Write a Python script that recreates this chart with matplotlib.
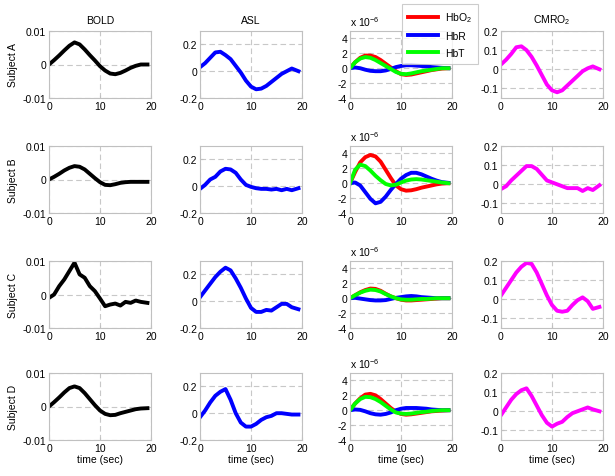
import numpy as np
import matplotlib
matplotlib.use("Agg")
import matplotlib.pyplot as plt

plt.rcParams["font.family"] = ["Liberation Sans", "DejaVu Sans"]
plt.rcParams["font.size"] = 7.5
plt.rcParams["mathtext.fontset"] = "custom"
plt.rcParams["mathtext.rm"] = "Liberation Sans"
plt.rcParams["mathtext.it"] = "Liberation Sans"

# time axis (sec)
t = [0, 1, 2, 3, 4, 5, 6, 7, 8, 9, 10, 11, 12, 13, 14, 15, 16, 17, 18, 19.3]

subjects = ["Subject A", "Subject B", "Subject C", "Subject D"]
columns = ["BOLD", "ASL", "", "CMRO$_2$"]

# BOLD
bold_a = [0, 0.0013, 0.0027, 0.0042, 0.0056, 0.0066, 0.006, 0.0045, 0.0028, 0.0012,
          -0.0005, -0.0018, -0.0027, -0.0029, -0.0025, -0.0018, -0.001, -0.0004, 0.0, 0.0]
bold_b = [0, 0.0008, 0.0017, 0.0027, 0.0035, 0.004, 0.0038, 0.003, 0.0017, 0.0004,
          -0.0008, -0.0016, -0.0017, -0.0014, -0.001, -0.0008, -0.0007, -0.0007, -0.0007, -0.0007]
bold_c = [-0.001, 0.0, 0.0025, 0.0045, 0.007, 0.0095, 0.006, 0.005, 0.0025, 0.001,
          -0.0012, -0.0035, -0.003, -0.0027, -0.0033, -0.0022, -0.0025, -0.0018, -0.0022, -0.0025]
bold_d = [0, 0.0013, 0.0027, 0.0042, 0.0055, 0.006, 0.0055, 0.004, 0.0022, 0.0004,
          -0.0012, -0.0022, -0.0026, -0.0025, -0.002, -0.0016, -0.0012, -0.0008, -0.0006, -0.0005]

# ASL
asl_a = [0.03, 0.06, 0.1, 0.14, 0.145, 0.12, 0.09, 0.04, -0.01, -0.07,
         -0.115, -0.135, -0.13, -0.11, -0.08, -0.05, -0.02, 0.0, 0.02, 0.0]
asl_b = [-0.02, 0.01, 0.05, 0.07, 0.11, 0.13, 0.125, 0.1, 0.05, 0.01,
         -0.005, -0.015, -0.02, -0.02, -0.025, -0.02, -0.03, -0.02, -0.03, -0.015]
asl_c = [0.03, 0.08, 0.13, 0.18, 0.22, 0.25, 0.23, 0.17, 0.1, 0.02,
         -0.05, -0.08, -0.08, -0.065, -0.07, -0.045, -0.02, -0.02, -0.045, -0.06]
asl_d = [-0.03, 0.02, 0.08, 0.13, 0.16, 0.18, 0.1, 0.0, -0.07, -0.1,
         -0.1, -0.08, -0.05, -0.03, -0.02, 0.0, 0.0, -0.005, -0.01, -0.01]

# NIRS (x 1e-6)
hbo2_a = [0, 0.8, 1.4, 1.7, 1.7, 1.5, 1.1, 0.6, 0.1, -0.4,
          -0.8, -0.9, -0.85, -0.7, -0.55, -0.4, -0.25, -0.15, -0.05, 0]
hbr_a = [0, 0.1, 0.0, -0.2, -0.35, -0.4, -0.4, -0.3, -0.1, 0.15,
         0.3, 0.4, 0.4, 0.35, 0.3, 0.25, 0.15, 0.1, 0.05, 0]
hbt_a = [0, 0.8, 1.3, 1.5, 1.4, 1.1, 0.7, 0.3, -0.1, -0.5,
         -0.75, -0.8, -0.7, -0.55, -0.4, -0.3, -0.2, -0.1, 0, 0]

hbo2_b = [0, 1.5, 2.8, 3.5, 3.8, 3.6, 2.9, 1.8, 0.7, -0.3,
          -0.8, -1.0, -0.95, -0.8, -0.6, -0.45, -0.3, -0.15, -0.05, 0]
hbr_b = [0, 0.1, -0.3, -1.2, -2.1, -2.7, -2.5, -1.8, -0.9, -0.1,
         0.6, 1.1, 1.4, 1.4, 1.2, 0.9, 0.6, 0.35, 0.15, 0.05]
hbt_b = [0, 1.8, 2.5, 2.3, 1.7, 1.0, 0.4, -0.1, -0.3, -0.2,
         0.1, 0.35, 0.5, 0.55, 0.5, 0.4, 0.3, 0.2, 0.1, 0]

hbo2_c = [0, 0.4, 0.8, 1.1, 1.3, 1.25, 1.0, 0.6, 0.25, 0.0,
          -0.2, -0.3, -0.3, -0.25, -0.2, -0.15, -0.1, -0.05, 0, 0]
hbr_c = [0, 0.05, -0.05, -0.15, -0.25, -0.3, -0.3, -0.25, -0.1, 0.05,
         0.15, 0.25, 0.3, 0.25, 0.15, 0.1, 0.05, 0, 0, 0]
hbt_c = [0, 0.4, 0.75, 1.0, 1.15, 1.1, 0.9, 0.55, 0.25, 0.0,
         -0.15, -0.2, -0.2, -0.15, -0.1, -0.1, -0.05, 0, 0, 0]

hbo2_d = [0, 0.9, 1.6, 2.1, 2.2, 2.0, 1.5, 0.9, 0.3, -0.2,
          -0.5, -0.6, -0.55, -0.45, -0.35, -0.25, -0.15, -0.1, -0.05, 0]
hbr_d = [0, 0.1, 0.05, -0.15, -0.4, -0.55, -0.6, -0.5, -0.3, 0.0,
         0.2, 0.3, 0.3, 0.3, 0.25, 0.2, 0.1, 0.05, 0, 0]
hbt_d = [0, 0.9, 1.5, 1.8, 1.75, 1.5, 1.1, 0.6, 0.1, -0.3,
         -0.45, -0.5, -0.45, -0.35, -0.25, -0.2, -0.1, -0.05, 0, 0]

# CMRO2
cmro2_a = [0.025, 0.05, 0.08, 0.115, 0.12, 0.1, 0.065, 0.02, -0.03, -0.08,
           -0.11, -0.12, -0.11, -0.085, -0.06, -0.035, -0.01, 0.005, 0.015, 0.0]
cmro2_b = [-0.025, -0.01, 0.02, 0.045, 0.07, 0.095, 0.095, 0.08, 0.05, 0.02,
           0.01, 0.0, -0.01, -0.02, -0.02, -0.02, -0.035, -0.02, -0.03, -0.005]
cmro2_c = [0.02, 0.06, 0.1, 0.14, 0.17, 0.19, 0.185, 0.14, 0.08, 0.02,
           -0.03, -0.06, -0.065, -0.06, -0.03, -0.005, 0.01, -0.01, -0.05, -0.04]
cmro2_d = [-0.02, 0.02, 0.06, 0.09, 0.11, 0.12, 0.08, 0.03, -0.02, -0.06,
           -0.08, -0.065, -0.055, -0.03, -0.01, 0.0, 0.01, 0.02, 0.01, 0.0]

bold = [bold_a, bold_b, bold_c, bold_d]
asl = [asl_a, asl_b, asl_c, asl_d]
hbo2 = [hbo2_a, hbo2_b, hbo2_c, hbo2_d]
hbr = [hbr_a, hbr_b, hbr_c, hbr_d]
hbt = [hbt_a, hbt_b, hbt_c, hbt_d]
cmro2 = [cmro2_a, cmro2_b, cmro2_c, cmro2_d]

W, H = 615, 477
lefts = [49, 200, 350, 501]
tops = [32, 147, 262, 374]
aw, ah = 102, 67
lw = 2.8
frame = "#c0c0c0"


def style(ax, ylim, yticks, yticklabels):
    ax.set_xlim(0, 20)
    ax.set_xticks([0, 10, 20])
    ax.set_ylim(*ylim)
    ax.set_yticks(yticks)
    ax.set_yticklabels(yticklabels)
    ax.grid(True, ls=(0, (5, 3)), color="#c8c8c8", lw=0.8)
    ax.set_axisbelow(True)
    for s in ax.spines.values():
        s.set_color(frame)
        s.set_linewidth(0.8)
    ax.tick_params(direction="in", length=2, color=frame, labelsize=7.5, pad=2)


fig = plt.figure(figsize=(W / 100, H / 100), dpi=100)

for r in range(4):
    axes = []
    for c in range(4):
        x0 = lefts[c] / W
        y0 = 1 - (tops[r] + ah) / H
        axes.append(fig.add_axes([x0, y0, aw / W, ah / H]))
    a0, a1, a2, a3 = axes

    a0.plot(t, bold[r], color="black", lw=lw)
    style(a0, (-0.01, 0.01), [-0.01, 0, 0.01], ["-0.01", "0", "0.01"])
    a0.set_ylabel(subjects[r], fontsize=7.5, labelpad=3)

    a1.plot(t, asl[r], color="#0000ff", lw=lw)
    style(a1, (-0.2, 0.3), [-0.2, 0, 0.2], ["-0.2", "0", "0.2"])

    a2.plot(t, hbo2[r], color="#ff0000", lw=lw, label="HbO$_2$")
    a2.plot(t, hbr[r], color="#0000ff", lw=lw, label="HbR")
    a2.plot(t, hbt[r], color="#00ff00", lw=lw, label="HbT")
    style(a2, (-4, 5), [-4, -2, 0, 2, 4], ["-4", "-2", "0", "2", "4"])
    a2.text(0, 1.04, "x 10$^{-6}$", transform=a2.transAxes, fontsize=7.5,
            ha="left", va="bottom")

    a3.plot(t, cmro2[r], color="#ff00ff", lw=lw)
    style(a3, (-0.15, 0.2), [-0.1, 0, 0.1, 0.2], ["-0.1", "0", "0.1", "0.2"])

    if r == 0:
        for ax, name in zip(axes, columns):
            if name:
                ax.set_title(name, fontsize=7.5, pad=6)
        handles, labels = a2.get_legend_handles_labels()
        leg = fig.legend(handles, labels, loc="upper left",
                         bbox_to_anchor=(402 / W, 1 - 5 / H), borderaxespad=0,
                         frameon=True, fancybox=False, edgecolor=frame,
                         fontsize=7.5, handlelength=2.9, handletextpad=0.6,
                         borderpad=0.6, labelspacing=0.65)
        leg.get_frame().set_linewidth(0.8)
    if r == 3:
        for ax in axes:
            ax.set_xlabel("time (sec)", fontsize=7.5, labelpad=1)

fig.savefig("out.png", dpi=100)
